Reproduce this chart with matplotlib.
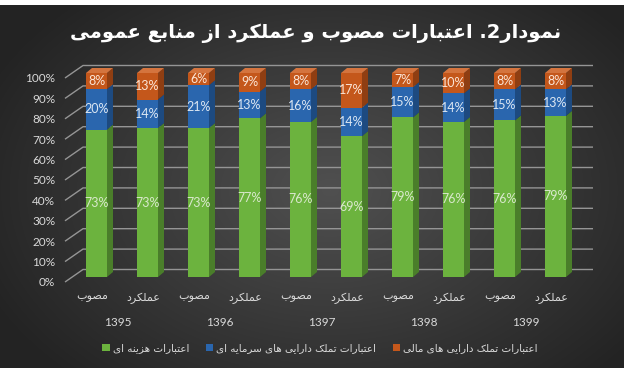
import re
import numpy as np
import matplotlib
matplotlib.use('Agg')
import matplotlib.pyplot as plt
from matplotlib.patches import Polygon, Rectangle
from matplotlib.transforms import ScaledTranslation, blended_transform_factory
from matplotlib import font_manager as fm
from matplotlib.ft2font import FT2Font

# ---------------- data ----------------
years = ['1395', '1396', '1397', '1398', '1399']
kinds = ['مصوب', 'عملکرد']
series_names = ['اعتبارات هزینه ای',
                'اعتبارات تملک دارایی های سرمایه ای',
                'اعتبارات تملک دارایی های مالی']
green_vals = [73, 73, 73, 77, 76, 69, 79, 76, 76, 79]
blue_vals = [20, 14, 21, 13, 16, 14, 15, 14, 15, 13]
orange_vals = [8, 13, 6, 9, 8, 17, 7, 10, 8, 8]
ytick_vals = [0, 10, 20, 30, 40, 50, 60, 70, 80, 90, 100]
title = 'نمودار2. اعتبارات مصوب و عملکرد از منابع عمومی'

# ---------------- minimal Persian shaping ----------------
FA_FONT = 'DejaVu Sans'
_font = FT2Font(fm.findfont(fm.FontProperties(family=FA_FONT)))
def _has(cp):
    try:
        return _font.get_char_index(cp) != 0
    except Exception:
        return False

FORMS = {
    '\u0627': ('\uFE8D', '\uFE8E', None, None),
    '\u0628': ('\uFE8F', '\uFE90', '\uFE91', '\uFE92'),
    '\u062A': ('\uFE95', '\uFE96', '\uFE97', '\uFE98'),
    '\u062F': ('\uFEA9', '\uFEAA', None, None),
    '\u0631': ('\uFEAD', '\uFEAE', None, None),
    '\u0632': ('\uFEAF', '\uFEB0', None, None),
    '\u0633': ('\uFEB1', '\uFEB2', '\uFEB3', '\uFEB4'),
    '\u0635': ('\uFEB9', '\uFEBA', '\uFEBB', '\uFEBC'),
    '\u0639': ('\uFEC9', '\uFECA', '\uFECB', '\uFECC'),
    '\u0644': ('\uFEDD', '\uFEDE', '\uFEDF', '\uFEE0'),
    '\u0645': ('\uFEE1', '\uFEE2', '\uFEE3', '\uFEE4'),
    '\u0646': ('\uFEE5', '\uFEE6', '\uFEE7', '\uFEE8'),
    '\u0647': ('\uFEE9', '\uFEEA', '\uFEEB', '\uFEEC'),
    '\u0648': ('\uFEED', '\uFEEE', None, None),
}
if _has(0xFBFC):
    FORMS['\u06CC'] = ('\uFBFC', '\uFBFD', '\uFBFE', '\uFBFF')
else:
    FORMS['\u06CC'] = ('\uFEEF', '\uFEF0', '\uFEF3', '\uFEF4')
if _has(0xFB8E):
    FORMS['\u06A9'] = ('\uFB8E', '\uFB8F', '\uFB90', '\uFB91')
else:
    FORMS['\u06A9'] = ('\uFED9', '\uFEDA', '\uFEDB', '\uFEDC')


def shape(text):
    out = []
    n = len(text)
    for i, c in enumerate(text):
        if c not in FORMS:
            out.append(c)
            continue
        iso, fin, ini, med = FORMS[c]
        prev = text[i - 1] if i > 0 else None
        nxt = text[i + 1] if i + 1 < n else None
        jp = prev in FORMS and FORMS[prev][2] is not None
        jn = ini is not None and nxt in FORMS
        if jp and jn:
            out.append(med)
        elif jn:
            out.append(ini)
        elif jp:
            out.append(fin)
        else:
            out.append(iso)
    s = ''.join(out)
    tokens = re.findall(r'[0-9A-Za-z%]+|[^0-9A-Za-z%]', s)
    return ''.join(tokens[::-1])


# ---------------- figure ----------------
W, H = 630, 370
fig = plt.figure(figsize=(W / 100, H / 100), dpi=100)

# background with radial gradient
bg = fig.add_axes([0, 0, 1, 1], zorder=-10)
yy, xx = np.mgrid[0:H, 0:W]
r = np.sqrt(((xx - 330) / 380.0) ** 2 + ((yy - 190) / 260.0) ** 2)
r = np.clip(r, 0, 1)
c_in = np.array([0x50, 0x50, 0x50]) / 255
c_out = np.array([0x23, 0x23, 0x23]) / 255
img = c_in[None, None, :] * (1 - r[..., None]) + c_out[None, None, :] * r[..., None]
mask = (xx > 623) | (yy < 5) | (yy > 367)
img[mask] = 1.0
bg.imshow(img, aspect='auto', interpolation='bilinear')
bg.set_axis_off()

# main axes: bar front plane
px_x = 51.0     # pixels per category
px_y = 204.0    # pixels per 100%
left_px, right_px, top_px, bot_px = 65, 593, 73, 277
ax = fig.add_axes([left_px / W, (H - bot_px) / H, (right_px - left_px) / W, (bot_px - top_px) / H])
ax.patch.set_alpha(0)
x0 = -(96.5 - left_px) / px_x
x1 = (right_px - 96.5) / px_x
ax.set_xlim(x0, x1)
ax.set_ylim(0, 1)
for s in ax.spines.values():
    s.set_visible(False)

grid_c = '#959595'
wall_dx = 18 / px_x
for t in ytick_vals:
    yv = t / 100
    y_lab = yv - 5 / px_y
    y_back = yv + 7.5 / px_y
    ax.plot([x0, x0 + wall_dx, x1], [y_lab, y_back, y_back], color=grid_c, lw=1.0,
            zorder=1, clip_on=False, solid_capstyle='butt')

# bars
n = len(green_vals)
xs = np.arange(n)
tot = np.array(green_vals) + np.array(blue_vals) + np.array(orange_vals)
g = np.array(green_vals) / tot
b = np.array(blue_vals) / tot
o = np.array(orange_vals) / tot
bw = 21 / px_x
ddx = 6 / px_x
ddy = 5 / px_y

front = {'g': '#6cb33e', 'b': '#2a66ae', 'o': '#c4571b'}
side = {'g': '#4a7e2a', 'b': '#1d4a80', 'o': '#8f3e12'}
topc = {'g': '#86c85a', 'b': '#3f7cc0', 'o': '#d4743e'}

segs = [('g', np.zeros(n), g), ('b', g, b), ('o', g + b, o)]
for key, bottom, height in segs:
    ax.bar(xs, height, bottom=bottom, width=bw, color=front[key], zorder=3, linewidth=0)
    for i in range(n):
        xr = xs[i] + bw / 2
        y0, y1 = bottom[i], bottom[i] + height[i]
        ax.add_patch(Polygon([(xr, y0), (xr + ddx, y0 + ddy), (xr + ddx, y1 + ddy), (xr, y1)],
                             closed=True, facecolor=side[key], edgecolor='none', zorder=3,
                             clip_on=False))
# top faces
for i in range(n):
    xl = xs[i] - bw / 2
    xr = xs[i] + bw / 2
    ax.add_patch(Polygon([(xl, 1), (xl + ddx, 1 + ddy), (xr + ddx, 1 + ddy), (xr, 1)],
                         closed=True, facecolor=topc['o'], edgecolor='none', zorder=3,
                         clip_on=False))

# data labels
lab_font = 'Lato'
for i in range(n):
    ax.text(xs[i], g[i] / 2, f'{green_vals[i]}%', ha='center', va='center', fontsize=9,
            color='#d9e8cc', family=lab_font, zorder=5)
    ax.text(xs[i], g[i] + b[i] / 2, f'{blue_vals[i]}%', ha='center', va='center', fontsize=9,
            color='#dce6f2', family=lab_font, zorder=5)
    ax.text(xs[i], g[i] + b[i] + o[i] / 2, f'{orange_vals[i]}%', ha='center', va='center',
            fontsize=9, color='#fbe5d6', family=lab_font, zorder=5)

# y tick labels
ax.set_yticks([t / 100 for t in ytick_vals], labels=[f'{t}%' for t in ytick_vals])
ax.tick_params(axis='y', length=0, pad=7, labelsize=8.5, labelcolor='#d9d9d9')
for lab in ax.get_yticklabels():
    lab.set_family(lab_font)
    lab.set_transform(lab.get_transform() + ScaledTranslation(0, -5 / 100, fig.dpi_scale_trans))

# x tick labels (two levels)
xlabels = [shape(kinds[i % 2]) for i in range(n)]
ax.set_xticks(xs, labels=xlabels)
ax.tick_params(axis='x', length=0, pad=11, labelsize=8, labelcolor='#d9d9d9')
for lab in ax.get_xticklabels():
    lab.set_family(FA_FONT)
    lab.set_transform(lab.get_transform() + ScaledTranslation(-4 / 100, 0, fig.dpi_scale_trans))
trans = blended_transform_factory(ax.transData, ax.transAxes)
for k, yr in enumerate(years):
    ax.text(2 * k + 0.5 - 4 / px_x, -(322 - bot_px) / px_y, yr, transform=trans, ha='center',
            va='center', fontsize=8.5, color='#d9d9d9', family=lab_font)

# legend
handles = [Rectangle((0, 0), 1, 1, facecolor=front[k], edgecolor='none') for k in ['g', 'b', 'o']]
leg = fig.legend(handles, [shape(s) for s in series_names], loc='center',
                 bbox_to_anchor=(320 / W, (H - 348) / H), ncol=3, frameon=False,
                 handlelength=0.7, handleheight=0.7, handletextpad=0.3,
                 columnspacing=1.6, prop={'family': FA_FONT, 'size': 7.5})
for t in leg.get_texts():
    t.set_color('#d9d9d9')

# title
fig.text(316 / W, (H - 33) / H, shape(title), ha='center', va='center', fontsize=14,
         fontweight='bold', color='white', family=FA_FONT)

fig.savefig('out.png', dpi=100)
